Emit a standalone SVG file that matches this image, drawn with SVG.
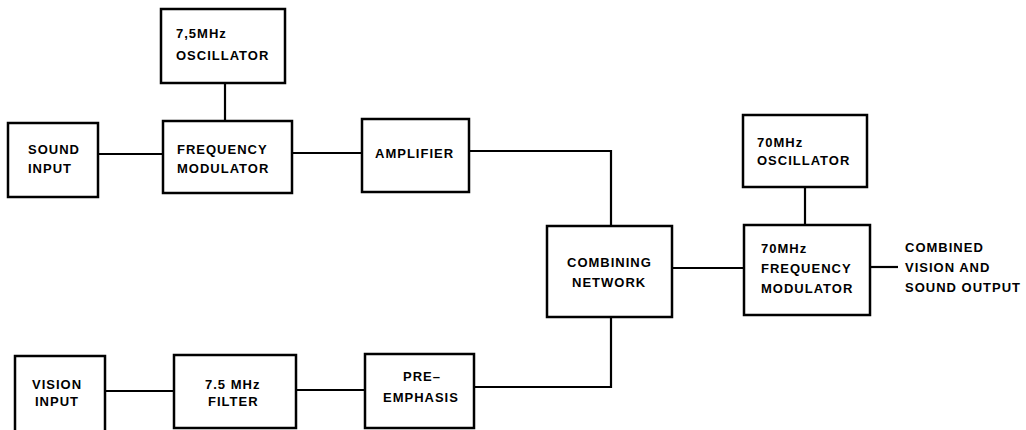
<svg xmlns="http://www.w3.org/2000/svg" width="1026" height="430" viewBox="0 0 1026 430">
<style>
.box{fill:#fff;stroke:#000;stroke-width:2.5}
.ln{fill:none;stroke:#000;stroke-width:2.2}
text{font-family:"Liberation Sans",Arial,sans-serif;font-weight:bold;font-size:13px;letter-spacing:1px;fill:#000}
</style>
<rect width="1026" height="430" fill="#fff"/>
<g id="connectors">
<path class="ln" d="M225 83V121"/>
<path class="ln" d="M99 154H163"/>
<path class="ln" d="M292 153H362"/>
<path class="ln" d="M469 151H611V226"/>
<path class="ln" d="M611 317V387H474"/>
<path class="ln" d="M672 268H743"/>
<path class="ln" d="M805 187V225"/>
<path class="ln" d="M870 267H898"/>
<path class="ln" d="M105 391H174"/>
<path class="ln" d="M296 390H365"/>
</g>
<g id="osc75"><rect class="box" x="161" y="9" width="124" height="74"/><text x="176" y="38">7,5MHz</text><text x="176" y="60">OSCILLATOR</text></g>
<g id="sound"><rect class="box" x="8" y="123" width="90" height="74"/><text x="28" y="154">SOUND</text><text x="28" y="173">INPUT</text></g>
<g id="fm"><rect class="box" x="163" y="121" width="129" height="72"/><text x="177" y="154">FREQUENCY</text><text x="177" y="173">MODULATOR</text></g>
<g id="amp"><rect class="box" x="362" y="119" width="107" height="73"/><text x="375" y="158">AMPLIFIER</text></g>
<g id="comb"><rect class="box" x="547" y="226" width="125" height="91"/><text x="567" y="267">COMBINING</text><text x="572" y="287">NETWORK</text></g>
<g id="osc70"><rect class="box" x="743" y="115" width="124" height="72"/><text x="757" y="147">70MHz</text><text x="757" y="165">OSCILLATOR</text></g>
<g id="fm70"><rect class="box" x="744" y="225" width="126" height="90"/><text x="761" y="253">70MHz</text><text x="761" y="273">FREQUENCY</text><text x="761" y="293">MODULATOR</text></g>
<g id="output"><text x="905" y="252">COMBINED</text><text x="905" y="272">VISION AND</text><text x="905" y="292">SOUND OUTPUT</text></g>
<g id="vision"><rect class="box" x="15" y="356" width="90" height="80"/><text x="32" y="389">VISION</text><text x="35" y="406">INPUT</text></g>
<g id="filter"><rect class="box" x="174" y="355" width="122" height="73"/><text x="205" y="389">7.5 MHz</text><text x="208" y="406">FILTER</text></g>
<g id="pre"><rect class="box" x="365" y="354" width="109" height="74"/><text x="403" y="381">PRE–</text><text x="383" y="402">EMPHASIS</text></g>
</svg>
